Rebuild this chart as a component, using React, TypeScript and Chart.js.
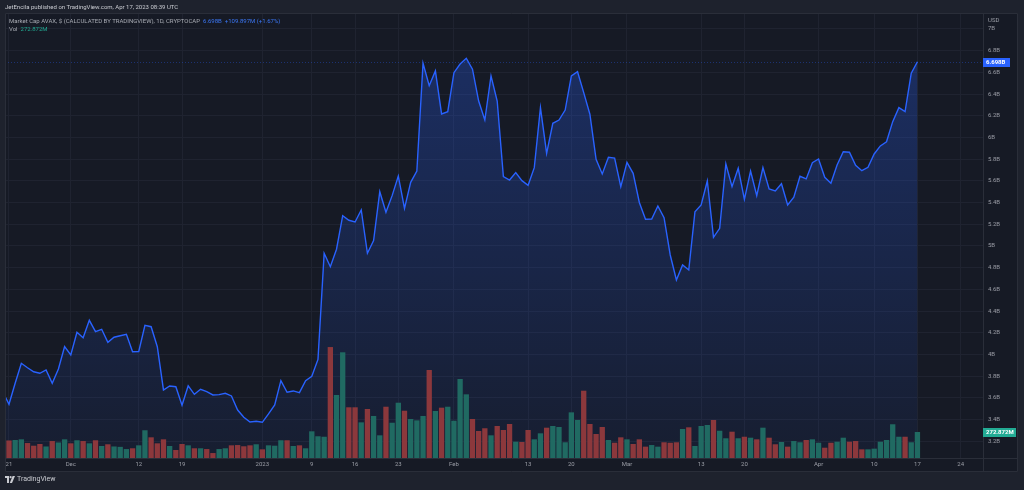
import React, { useEffect, useRef } from "react";
import { Chart, registerables } from "chart.js";

Chart.register(...registerables);

// Day index 0 = 2022-11-20, daily closes (billions USD)
const prevClose = 3.7;
const priceB = [
  3.656, 3.541, 3.735, 3.919, 3.878, 3.841, 3.827, 3.857, 3.735, 3.866,
  4.072, 3.995, 4.205, 4.155, 4.315, 4.21, 4.232, 4.112, 4.159, 4.173,
  4.186, 4.026, 4.028, 4.269, 4.256, 4.072, 3.673, 3.71, 3.703, 3.532,
  3.712, 3.633, 3.679, 3.657, 3.627, 3.63, 3.642, 3.618, 3.488, 3.421,
  3.378, 3.384, 3.375, 3.452, 3.535, 3.759, 3.652, 3.664, 3.648, 3.759,
  3.799, 3.954, 4.933, 4.809, 4.97, 5.279, 5.237, 5.221, 5.332, 4.933,
  5.049, 5.5, 5.311, 5.464, 5.645, 5.347, 5.587, 5.691, 6.684, 6.477,
  6.613, 6.217, 6.238, 6.597, 6.677, 6.73, 6.629, 6.336, 6.161, 6.567,
  6.336, 5.639, 5.608, 5.676, 5.602, 5.559, 5.722, 6.275, 5.854, 6.131,
  6.161, 6.253, 6.567, 6.606, 6.413, 6.214, 5.799, 5.664, 5.817, 5.81,
  5.547, 5.771, 5.67, 5.401, 5.246, 5.248, 5.369, 5.261, 4.917, 4.687,
  4.825, 4.779, 5.316, 5.378, 5.599, 5.08, 5.163, 5.756, 5.547, 5.716,
  5.43, 5.691, 5.464, 5.722, 5.525, 5.507, 5.574, 5.378, 5.449, 5.642,
  5.618, 5.768, 5.802, 5.633, 5.578, 5.747, 5.869, 5.864, 5.744, 5.694,
  5.725, 5.848, 5.922, 5.961, 6.146, 6.275, 6.238, 6.592, 6.698,
];
// Daily volume (millions USD)
const volumeM = [
  136, 184, 189, 196, 157, 129, 147, 121, 178, 163,
  196, 154, 186, 178, 154, 186, 126, 144, 121, 117,
  94, 102, 133, 291, 217, 154, 196, 126, 84, 147,
  133, 102, 102, 94, 52, 94, 102, 133, 136, 123,
  133, 144, 91, 133, 129, 186, 186, 126, 133, 102,
  280, 228, 223, 1164, 661, 1109, 532, 532, 374, 514,
  441, 238, 538, 370, 580, 496, 409, 395, 441, 923,
  493, 528, 538, 391, 829, 668, 409, 283, 312, 238,
  336, 294, 357, 171, 168, 294, 196, 259, 318, 336,
  325, 165, 479, 399, 706, 357, 252, 325, 189, 160,
  217, 196, 147, 196, 119, 136, 119, 165, 160, 165,
  304, 322, 126, 336, 346, 399, 286, 207, 276, 207,
  223, 213, 196, 318, 213, 144, 168, 119, 178, 165,
  189, 196, 160, 108, 160, 171, 213, 171, 178, 91,
  91, 98, 171, 189, 354, 223, 223, 165, 272.872,
];

const xTickDays = [1, 11, 22, 29, 42, 50, 57, 64, 73, 85, 92, 101, 113, 120, 132, 141, 148, 155];
const xTickLabels = ["21", "Dec", "12", "19", "2023", "9", "16", "23", "Feb", "13", "20", "Mar", "13", "20", "Apr", "10", "17", "24"];
const yTicks = [3.2, 3.4, 3.6, 3.8, 4.0, 4.2, 4.4, 4.6, 4.8, 5.0, 5.2, 5.4, 5.6, 5.8, 6.0, 6.2, 6.4, 6.6, 6.8, 7.0];
const xRange = [0.356, 158.61];
const yRange = [3.046, 7.138];
const volRangeMax = 4658;

const lastPriceLabel = "6.698B";
const lastVolLabel = "272.872M";

const C = {
  outer: "#1e222d",
  pane: "#161a25",
  border: "#2a2e39",
  grid: "#1f2330",
  text: "#9a9da6",
  blue: "#2962ff",
  teal: "#22ab94",
  volUp: "#206a62",
  volDown: "#8c383c",
};

const fmtB = (v: number) => {
  const r = Math.round(v * 10) / 10;
  return (Number.isInteger(r) ? r.toFixed(0) : r.toFixed(1)) + "B";
};

const framePlugin = {
  id: "tvframe",
  beforeDraw(chart: any) {
    const { ctx, width } = chart;
    const ca = chart.chartArea;
    const xs = chart.scales.x;
    ctx.save();
    ctx.fillStyle = C.outer;
    ctx.fillRect(0, 0, width, chart.height);
    ctx.fillStyle = C.pane;
    ctx.fillRect(ca.left, ca.top - 1, width - 6 - ca.left, xs.bottom - ca.top + 1);
    ctx.restore();
  },
  beforeDatasetsDraw(chart: any) {
    const { ctx } = chart;
    const ca = chart.chartArea;
    const y = Math.round(chart.scales.y.getPixelForValue(priceB[priceB.length - 1])) + 0.5;
    ctx.save();
    ctx.strokeStyle = "rgba(41,98,255,0.35)";
    ctx.lineWidth = 1;
    ctx.setLineDash([1, 2]);
    ctx.beginPath();
    ctx.moveTo(ca.left, y);
    ctx.lineTo(ca.right, y);
    ctx.stroke();
    ctx.restore();
  },
  afterDraw(chart: any) {
    const { ctx, width } = chart;
    const ca = chart.chartArea;
    const xs = chart.scales.x;
    const right = width - 6;
    ctx.save();
    ctx.strokeStyle = C.border;
    ctx.lineWidth = 1;
    ctx.beginPath();
    ctx.rect(ca.left + 0.5, ca.top - 0.5, right - ca.left - 1, xs.bottom - ca.top);
    ctx.moveTo(ca.right + 0.5, ca.top);
    ctx.lineTo(ca.right + 0.5, xs.bottom);
    ctx.moveTo(ca.left, ca.bottom + 0.5);
    ctx.lineTo(right, ca.bottom + 0.5);
    ctx.stroke();

    ctx.font = "6px Roboto";
    ctx.fillStyle = C.text;
    ctx.textBaseline = "middle";
    ctx.textAlign = "left";
    ctx.fillText("USD", ca.right + 5, ca.top + 6);

    // last price tag
    const py = chart.scales.y.getPixelForValue(priceB[priceB.length - 1]);
    ctx.fillStyle = C.blue;
    ctx.fillRect(ca.right, Math.round(py) - 4, 27, 9);
    ctx.fillStyle = "#ffffff";
    ctx.font = "bold 6px Roboto";
    ctx.fillText(lastPriceLabel, ca.right + 3, Math.round(py) + 0.5);

    // last volume tag
    const vy = chart.scales.yv.getPixelForValue(volumeM[volumeM.length - 1]);
    ctx.fillStyle = C.teal;
    ctx.fillRect(ca.right, Math.round(vy) - 4, 33, 9);
    ctx.fillStyle = "#ffffff";
    ctx.fillText(lastVolLabel, ca.right + 3, Math.round(vy) + 0.5);
    ctx.restore();
  },
};

export default function App() {
  const ref = useRef<HTMLCanvasElement | null>(null);

  useEffect(() => {
    const canvas = ref.current;
    if (!canvas) return;
    const lineData = priceB.map((v, i) => ({ x: i, y: v }));
    const volData = volumeM.map((v, i) => ({ x: i, y: v }));
    const volColors = priceB.map((v, i) => ((i === 0 ? v >= prevClose : v >= priceB[i - 1]) ? C.volUp : C.volDown));

    const chart = new Chart(canvas, {
      type: "line",
      data: {
        datasets: [
          {
            type: "bar",
            data: volData as any,
            xAxisID: "x",
            yAxisID: "yv",
            backgroundColor: volColors,
            borderWidth: 0,
            barPercentage: 0.86,
            categoryPercentage: 1,
            order: 0,
          } as any,
          {
            type: "line",
            data: lineData as any,
            xAxisID: "x",
            yAxisID: "y",
            borderColor: C.blue,
            borderWidth: 1.4,
            pointRadius: 0,
            tension: 0,
            fill: "start",
            backgroundColor: (ctx: any) => {
              const ca = ctx.chart.chartArea;
              if (!ca) return "rgba(41,98,255,0.15)";
              const g = ctx.chart.ctx.createLinearGradient(0, ca.top + 40, 0, ca.bottom);
              g.addColorStop(0, "rgba(41,98,255,0.28)");
              g.addColorStop(1, "rgba(41,98,255,0.05)");
              return g;
            },
            order: 1,
          } as any,
        ],
      },
      options: {
        animation: false,
        responsive: true,
        maintainAspectRatio: false,
        devicePixelRatio: 1,
        layout: { padding: { left: 5, right: 6, top: 14, bottom: 18 } },
        plugins: { legend: { display: false }, tooltip: { enabled: false }, title: { display: false } },
        scales: {
          x: {
            type: "linear",
            min: xRange[0],
            max: xRange[1],
            offset: false,
            afterBuildTicks: (s: any) => {
              s.ticks = xTickDays.map((v) => ({ value: v }));
            },
            afterFit: (s: any) => {
              s.height = 14;
            },
            ticks: {
              autoSkip: false,
              maxRotation: 0,
              padding: 3,
              color: C.text,
              font: { size: 6, family: "Roboto" },
              callback: (_v: any, i: number) => xTickLabels[i],
            },
            grid: { color: C.grid, drawTicks: false, offset: false },
            border: { display: false },
          },
          y: {
            type: "linear",
            position: "right",
            min: yRange[0],
            max: yRange[1],
            afterBuildTicks: (s: any) => {
              s.ticks = yTicks.map((v) => ({ value: v }));
            },
            afterFit: (s: any) => {
              s.width = 35;
            },
            ticks: {
              padding: 5,
              color: C.text,
              font: { size: 6, family: "Roboto" },
              callback: (v: any) => fmtB(Number(v)),
            },
            grid: { color: C.grid, drawTicks: false },
            border: { display: false },
          },
          yv: {
            type: "linear",
            display: false,
            min: 0,
            max: volRangeMax,
          },
        },
      },
      plugins: [framePlugin as any],
    });
    return () => chart.destroy();
  }, []);

  const base: React.CSSProperties = {
    position: "absolute",
    fontFamily: "Roboto, sans-serif",
    whiteSpace: "nowrap",
    lineHeight: "7px",
    pointerEvents: "none",
  };

  return (
    <div style={{ position: "fixed", left: 0, top: 0, width: 1024, height: 490, background: C.outer }}>
      <canvas ref={ref} style={{ display: "block" }} />
      <div style={{ ...base, left: 5, top: 3, fontSize: "6px", color: "#c9cbd1" }}>
        JetEncila published on TradingView.com, Apr 17, 2023 08:39 UTC
      </div>
      <div style={{ ...base, left: 9, top: 17, fontSize: "6px", color: "#a8abb3" }}>
        Market Cap AVAX, $ (CALCULATED BY TRADINGVIEW), 1D, CRYPTOCAP{" "}
        <span style={{ color: "#3b77f6" }}>&nbsp;6.698B&nbsp; +109.897M (+1.67%)</span>
      </div>
      <div style={{ ...base, left: 9, top: 25, fontSize: "6px", color: "#a8abb3" }}>
        Vol&nbsp;&nbsp;<span style={{ color: C.teal }}>272.872M</span>
      </div>
      <div style={{ ...base, left: 5, top: 476, fontSize: "7px", color: "#c9cbd1", display: "flex", alignItems: "center" }}>
        <svg width="10" height="7" viewBox="0 0 10 7" style={{ marginRight: 2 }}>
          <path d="M0 0H4V7H2V2H0Z" fill="#c9cbd1" />
          <circle cx="5.6" cy="1.2" r="1.1" fill="#c9cbd1" />
          <path d="M7.6 0H10L7 7H4.8Z" fill="#c9cbd1" />
        </svg>
        TradingView
      </div>
    </div>
  );
}
